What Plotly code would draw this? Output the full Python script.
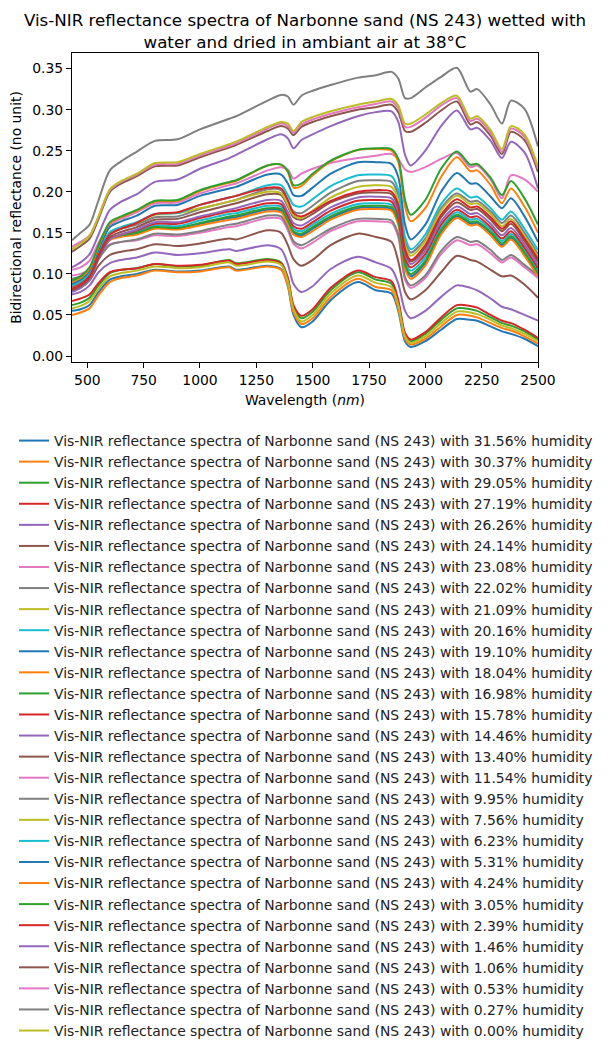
import plotly.graph_objects as go

wavelength_nm = [432, 470, 510, 550, 600, 650, 720, 800, 900, 1000, 1130, 1160, 1300, 1360, 1390, 1415, 1450, 1500,
                 1580, 1700, 1780, 1850, 1880, 1910, 1935, 2000, 2070, 2140, 2200, 2230, 2290, 2340, 2380, 2440, 2500]

humidity_pct = ["31.56", "30.37", "29.05", "27.19", "26.26", "24.14", "23.08", "22.02", "21.09", "20.16",
                "19.10", "18.04", "16.98", "15.78", "14.46", "13.40", "11.54", "9.95", "7.56", "6.23",
                "5.31", "4.24", "3.05", "2.39", "1.46", "1.06", "0.53", "0.27", "0.00"]

h31_56 = [0.055, 0.057, 0.062, 0.078, 0.093, 0.097, 0.100, 0.105, 0.103, 0.104, 0.109, 0.105, 0.110, 0.106, 0.085, 0.050, 0.035, 0.042,
          0.068, 0.090, 0.080, 0.076, 0.055, 0.018, 0.011, 0.018, 0.032, 0.045, 0.044, 0.043, 0.036, 0.030, 0.027, 0.021, 0.012]
h30_37 = [0.050, 0.053, 0.058, 0.074, 0.090, 0.095, 0.098, 0.104, 0.102, 0.103, 0.108, 0.104, 0.109, 0.105, 0.086, 0.053, 0.039, 0.046,
          0.072, 0.094, 0.084, 0.080, 0.058, 0.021, 0.014, 0.021, 0.036, 0.050, 0.049, 0.047, 0.040, 0.034, 0.031, 0.024, 0.015]
h29_05 = [0.062, 0.065, 0.071, 0.086, 0.101, 0.105, 0.107, 0.112, 0.109, 0.110, 0.117, 0.113, 0.118, 0.114, 0.094, 0.060, 0.046, 0.054,
          0.080, 0.102, 0.093, 0.088, 0.065, 0.026, 0.018, 0.027, 0.044, 0.058, 0.057, 0.055, 0.047, 0.040, 0.037, 0.030, 0.020]
h27_19 = [0.067, 0.070, 0.075, 0.089, 0.102, 0.105, 0.107, 0.112, 0.110, 0.111, 0.116, 0.112, 0.117, 0.113, 0.095, 0.062, 0.049, 0.057,
          0.083, 0.104, 0.096, 0.091, 0.068, 0.028, 0.020, 0.029, 0.047, 0.062, 0.061, 0.059, 0.050, 0.043, 0.040, 0.032, 0.022]
h26_26 = [0.075, 0.078, 0.086, 0.102, 0.113, 0.117, 0.120, 0.126, 0.123, 0.125, 0.130, 0.128, 0.135, 0.130, 0.112, 0.088, 0.078, 0.085,
          0.106, 0.121, 0.114, 0.106, 0.088, 0.055, 0.046, 0.055, 0.072, 0.086, 0.083, 0.080, 0.070, 0.060, 0.057, 0.050, 0.043]
h24_14 = [0.080, 0.083, 0.092, 0.110, 0.123, 0.127, 0.130, 0.136, 0.134, 0.137, 0.143, 0.142, 0.153, 0.150, 0.135, 0.118, 0.110, 0.117,
          0.135, 0.149, 0.145, 0.139, 0.115, 0.078, 0.069, 0.080, 0.102, 0.122, 0.117, 0.115, 0.105, 0.097, 0.098, 0.087, 0.071]
h23_08 = [0.098, 0.100, 0.106, 0.123, 0.136, 0.139, 0.141, 0.147, 0.146, 0.150, 0.157, 0.158, 0.168, 0.167, 0.153, 0.137, 0.131, 0.138,
          0.152, 0.164, 0.164, 0.162, 0.145, 0.093, 0.083, 0.095, 0.124, 0.141, 0.135, 0.136, 0.125, 0.114, 0.120, 0.108, 0.095]
h22_02 = [0.085, 0.089, 0.097, 0.118, 0.135, 0.139, 0.142, 0.149, 0.148, 0.152, 0.160, 0.161, 0.171, 0.170, 0.156, 0.140, 0.135, 0.142,
          0.155, 0.167, 0.167, 0.165, 0.148, 0.096, 0.086, 0.098, 0.128, 0.145, 0.139, 0.140, 0.129, 0.117, 0.123, 0.111, 0.098]
h21_09 = [0.058, 0.061, 0.067, 0.082, 0.097, 0.101, 0.104, 0.109, 0.107, 0.108, 0.114, 0.110, 0.115, 0.111, 0.091, 0.057, 0.042, 0.050,
          0.076, 0.098, 0.089, 0.084, 0.062, 0.024, 0.016, 0.024, 0.040, 0.054, 0.053, 0.051, 0.044, 0.037, 0.034, 0.027, 0.018]
h20_16 = [0.090, 0.094, 0.102, 0.124, 0.143, 0.147, 0.151, 0.159, 0.158, 0.165, 0.173, 0.174, 0.183, 0.182, 0.168, 0.155, 0.152, 0.160,
          0.173, 0.185, 0.186, 0.184, 0.167, 0.115, 0.104, 0.120, 0.156, 0.175, 0.166, 0.167, 0.154, 0.140, 0.149, 0.129, 0.104]
h19_10 = [0.094, 0.097, 0.105, 0.125, 0.142, 0.146, 0.149, 0.156, 0.155, 0.161, 0.168, 0.169, 0.178, 0.177, 0.163, 0.150, 0.147, 0.155,
          0.168, 0.180, 0.181, 0.179, 0.162, 0.109, 0.097, 0.113, 0.150, 0.170, 0.161, 0.162, 0.149, 0.135, 0.144, 0.124, 0.099]
h18_04 = [0.093, 0.096, 0.104, 0.124, 0.141, 0.145, 0.148, 0.155, 0.154, 0.159, 0.166, 0.167, 0.176, 0.175, 0.161, 0.148, 0.145, 0.152,
          0.166, 0.178, 0.179, 0.177, 0.160, 0.106, 0.094, 0.110, 0.148, 0.168, 0.159, 0.160, 0.147, 0.133, 0.142, 0.122, 0.097]
h16_98 = [0.092, 0.096, 0.104, 0.125, 0.143, 0.147, 0.150, 0.157, 0.156, 0.162, 0.170, 0.171, 0.180, 0.179, 0.165, 0.152, 0.149, 0.157,
          0.170, 0.182, 0.183, 0.181, 0.164, 0.111, 0.100, 0.116, 0.153, 0.172, 0.163, 0.164, 0.151, 0.137, 0.146, 0.126, 0.101]
h15_78 = [0.085, 0.089, 0.098, 0.121, 0.143, 0.148, 0.153, 0.161, 0.161, 0.168, 0.176, 0.177, 0.186, 0.185, 0.171, 0.158, 0.155, 0.163,
          0.177, 0.189, 0.190, 0.188, 0.171, 0.119, 0.108, 0.124, 0.160, 0.178, 0.169, 0.170, 0.157, 0.143, 0.152, 0.132, 0.107]
h14_46 = [0.078, 0.083, 0.093, 0.118, 0.142, 0.148, 0.154, 0.163, 0.163, 0.170, 0.178, 0.180, 0.190, 0.189, 0.175, 0.162, 0.159, 0.167,
          0.181, 0.193, 0.194, 0.192, 0.176, 0.124, 0.112, 0.128, 0.164, 0.182, 0.173, 0.174, 0.161, 0.147, 0.156, 0.136, 0.111]
h13_40 = [0.080, 0.085, 0.095, 0.120, 0.145, 0.151, 0.157, 0.166, 0.167, 0.175, 0.184, 0.186, 0.197, 0.196, 0.182, 0.169, 0.166, 0.173,
          0.187, 0.198, 0.199, 0.197, 0.181, 0.127, 0.115, 0.132, 0.169, 0.187, 0.178, 0.179, 0.166, 0.152, 0.161, 0.140, 0.115]
h11_54 = [0.105, 0.108, 0.116, 0.138, 0.160, 0.167, 0.175, 0.186, 0.187, 0.198, 0.208, 0.210, 0.226, 0.230, 0.227, 0.216, 0.222, 0.228,
          0.235, 0.241, 0.244, 0.246, 0.240, 0.227, 0.224, 0.230, 0.240, 0.247, 0.230, 0.232, 0.215, 0.192, 0.220, 0.215, 0.200]
h9_95 = [0.085, 0.090, 0.100, 0.125, 0.149, 0.155, 0.160, 0.169, 0.170, 0.179, 0.188, 0.190, 0.203, 0.202, 0.188, 0.176, 0.174, 0.183,
         0.199, 0.213, 0.214, 0.212, 0.196, 0.140, 0.126, 0.143, 0.180, 0.198, 0.188, 0.189, 0.176, 0.162, 0.171, 0.150, 0.124]
h7_56 = [0.088, 0.093, 0.103, 0.127, 0.150, 0.156, 0.162, 0.172, 0.174, 0.180, 0.188, 0.190, 0.200, 0.198, 0.184, 0.171, 0.168, 0.177,
         0.193, 0.206, 0.208, 0.206, 0.190, 0.135, 0.122, 0.140, 0.177, 0.195, 0.185, 0.186, 0.173, 0.158, 0.167, 0.146, 0.121]
h6_23 = [0.086, 0.091, 0.101, 0.126, 0.151, 0.157, 0.163, 0.173, 0.174, 0.184, 0.193, 0.195, 0.208, 0.208, 0.196, 0.184, 0.182, 0.191,
         0.207, 0.220, 0.221, 0.219, 0.202, 0.145, 0.130, 0.148, 0.185, 0.204, 0.193, 0.194, 0.180, 0.166, 0.176, 0.155, 0.129]
h5_31 = [0.088, 0.093, 0.104, 0.130, 0.157, 0.164, 0.171, 0.183, 0.184, 0.195, 0.204, 0.206, 0.221, 0.221, 0.210, 0.196, 0.195, 0.205,
         0.222, 0.236, 0.236, 0.234, 0.218, 0.160, 0.142, 0.160, 0.200, 0.223, 0.210, 0.210, 0.194, 0.180, 0.192, 0.170, 0.139]
h4_24 = [0.090, 0.095, 0.106, 0.133, 0.162, 0.169, 0.177, 0.188, 0.189, 0.201, 0.211, 0.213, 0.232, 0.233, 0.224, 0.205, 0.207, 0.220,
         0.237, 0.251, 0.252, 0.250, 0.236, 0.182, 0.164, 0.180, 0.218, 0.242, 0.225, 0.226, 0.208, 0.186, 0.204, 0.182, 0.150]
h3_05 = [0.092, 0.097, 0.108, 0.135, 0.163, 0.170, 0.178, 0.189, 0.190, 0.202, 0.212, 0.214, 0.232, 0.233, 0.225, 0.208, 0.210, 0.222,
         0.238, 0.251, 0.253, 0.252, 0.240, 0.190, 0.172, 0.190, 0.228, 0.249, 0.233, 0.234, 0.217, 0.196, 0.213, 0.192, 0.160]
h2_39 = [0.082, 0.087, 0.097, 0.123, 0.148, 0.155, 0.162, 0.173, 0.175, 0.184, 0.193, 0.195, 0.205, 0.204, 0.190, 0.174, 0.170, 0.176,
         0.189, 0.200, 0.202, 0.200, 0.184, 0.130, 0.117, 0.135, 0.172, 0.191, 0.181, 0.182, 0.169, 0.155, 0.164, 0.143, 0.118]
h1_46 = [0.108, 0.114, 0.124, 0.148, 0.178, 0.188, 0.197, 0.212, 0.215, 0.228, 0.241, 0.245, 0.264, 0.270, 0.265, 0.253, 0.263, 0.270,
         0.280, 0.292, 0.297, 0.298, 0.285, 0.245, 0.232, 0.250, 0.280, 0.299, 0.276, 0.278, 0.262, 0.241, 0.261, 0.248, 0.204]
h1_06 = [0.127, 0.134, 0.143, 0.167, 0.200, 0.210, 0.219, 0.231, 0.232, 0.242, 0.254, 0.257, 0.274, 0.280, 0.277, 0.269, 0.279, 0.285,
         0.292, 0.300, 0.303, 0.306, 0.297, 0.274, 0.273, 0.284, 0.299, 0.310, 0.282, 0.285, 0.268, 0.246, 0.273, 0.263, 0.224]
h0_53 = [0.133, 0.139, 0.147, 0.170, 0.202, 0.212, 0.221, 0.233, 0.234, 0.244, 0.256, 0.259, 0.277, 0.283, 0.280, 0.272, 0.282, 0.288,
         0.295, 0.303, 0.307, 0.310, 0.302, 0.279, 0.279, 0.290, 0.305, 0.314, 0.286, 0.289, 0.272, 0.249, 0.277, 0.267, 0.228]
h0_27 = [0.141, 0.150, 0.160, 0.190, 0.226, 0.237, 0.249, 0.262, 0.264, 0.276, 0.289, 0.292, 0.311, 0.318, 0.316, 0.306, 0.317, 0.323,
         0.330, 0.339, 0.342, 0.346, 0.338, 0.314, 0.314, 0.327, 0.340, 0.351, 0.322, 0.325, 0.306, 0.283, 0.311, 0.301, 0.255]
h0_00 = [0.130, 0.137, 0.146, 0.170, 0.203, 0.213, 0.222, 0.235, 0.236, 0.246, 0.258, 0.261, 0.279, 0.285, 0.283, 0.274, 0.285, 0.291,
         0.298, 0.306, 0.310, 0.313, 0.305, 0.283, 0.283, 0.294, 0.308, 0.317, 0.289, 0.292, 0.275, 0.252, 0.280, 0.270, 0.231]

spectra = [h31_56, h30_37, h29_05, h27_19, h26_26, h24_14, h23_08, h22_02, h21_09, h20_16,
           h19_10, h18_04, h16_98, h15_78, h14_46, h13_40, h11_54, h9_95, h7_56, h6_23,
           h5_31, h4_24, h3_05, h2_39, h1_46, h1_06, h0_53, h0_27, h0_00]

colors = ['#1f77b4', '#ff7f0e', '#2ca02c', '#d62728', '#9467bd',
          '#8c564b', '#e377c2', '#7f7f7f', '#bcbd22', '#17becf']

font_family = "DejaVu Sans"
FS = 13.9

fig = go.Figure()
for i, (h, vals) in enumerate(zip(humidity_pct, spectra)):
    fig.add_trace(go.Scatter(
        x=wavelength_nm, y=vals, mode="lines",
        line=dict(color=colors[i % 10], width=2, shape="spline", smoothing=0.8),
        name=f"Vis-NIR reflectance spectra of Narbonne sand (NS 243) with {h}% humidity",
    ))

# The page body has an 8px margin, so the figure is 8px smaller each way.
fig.update_layout(
    width=600, height=1043,
    margin=dict(l=64, r=70, t=45, b=689, autoexpand=False),
    paper_bgcolor="white", plot_bgcolor="white",
    font=dict(family=font_family, size=FS, color="black"),
    title=dict(
        text="Vis-NIR reflectance spectra of Narbonne sand (NS 243) wetted with<br>water and dried in ambiant air at 38°C",
        x=0.5, xref="paper", xanchor="center", y=1 - 18 / 1043, yref="container", yanchor="top",
        font=dict(family=font_family, size=16.7, color="black"),
    ),
    showlegend=True,
    legend=dict(
        x=-0.1245, xanchor="left", y=-0.204, yanchor="top",
        font=dict(family=font_family, size=FS, color="#222222"),
        bgcolor="rgba(255,255,255,0)", borderwidth=0,
        tracegroupgap=0, itemwidth=30, maxheight=1000,
    ),
)

fig.update_xaxes(
    range=[432, 2500], tickmode="array", tickvals=[500, 750, 1000, 1250, 1500, 1750, 2000, 2250, 2500],
    ticks="outside", ticklen=5, tickwidth=1, tickcolor="black",
    showline=True, linecolor="black", linewidth=1, mirror=True, showgrid=False, zeroline=False,
    tickfont=dict(size=FS),
    title=dict(text="Wavelength (<i>nm</i>)", font=dict(size=FS), standoff=8),
)
fig.update_yaxes(
    range=[-0.0073, 0.369], tickmode="array", tickvals=[0, 0.05, 0.1, 0.15, 0.2, 0.25, 0.3, 0.35],
    tickformat=".2f",
    ticks="outside", ticklen=5, tickwidth=1, tickcolor="black",
    showline=True, linecolor="black", linewidth=1, mirror=True, showgrid=False, zeroline=False,
    tickfont=dict(size=FS),
    title=dict(text="Bidirectional reflectance (no unit)", font=dict(size=FS), standoff=12),
)

fig.write_html("out.html")
